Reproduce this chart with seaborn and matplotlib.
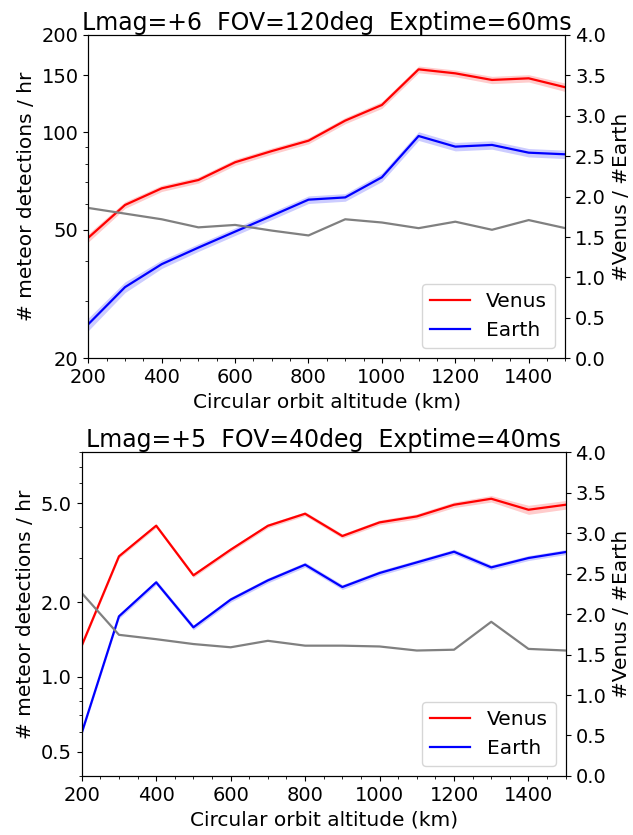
import numpy as np
import matplotlib
matplotlib.use("Agg")
import matplotlib.pyplot as plt
import matplotlib.ticker as mticker
import seaborn as sns

# altitudes of the circular orbits (km)
altitudes = [200, 300, 400, 500, 600, 700, 800, 900, 1000, 1100, 1200, 1300, 1400, 1500]

# --- top panel: Lmag=+6, FOV=120deg, Exptime=60ms ---
venus_top = [47.2, 59.6, 67.1, 71.2, 80.8, 87.5, 94.2, 108.7, 121.5, 156.6, 152.2, 145.2, 146.9, 137.8]
earth_top = [25.5, 33.2, 39.1, 44.0, 49.3, 55.2, 61.9, 62.9, 72.6, 97.4, 90.3, 91.4, 86.5, 85.5]
ratio_top = [1.86, 1.79, 1.72, 1.62, 1.65, 1.58, 1.52, 1.72, 1.68, 1.61, 1.69, 1.59, 1.71, 1.61]
# half width of the shaded band, in percent
venus_err_top = [3.0, 2.4, 2.2, 2.2, 2.2, 2.2, 2.2, 2.2, 2.4, 2.4, 2.4, 2.6, 2.6, 3.0]
earth_err_top = [4.5, 3.8, 3.0, 2.7, 2.7, 2.7, 2.7, 2.7, 3.0, 3.1, 3.0, 3.0, 3.0, 3.0]

# --- bottom panel: Lmag=+5, FOV=40deg, Exptime=40ms ---
venus_bot = [1.336, 3.053, 4.054, 2.561, 3.246, 4.05, 4.529, 3.684, 4.18, 4.418, 4.921, 5.202, 4.699, 4.921]
earth_bot = [0.596, 1.752, 2.400, 1.583, 2.045, 2.444, 2.826, 2.298, 2.617, 2.887, 3.186, 2.757, 3.006, 3.177]
ratio_bot = [2.26, 1.744, 1.69, 1.63, 1.59, 1.67, 1.61, 1.61, 1.60, 1.55, 1.56, 1.905, 1.57, 1.55]
venus_err_bot = [1.8, 1.8, 1.8, 1.9, 1.9, 1.9, 1.9, 2.0, 2.2, 2.4, 2.6, 3.0, 4.2, 4.0]
earth_err_bot = [2.2, 2.2, 2.2, 2.3, 2.3, 2.3, 2.3, 2.3, 2.3, 2.3, 2.3, 2.3, 2.3, 2.3]

titles = ["Lmag=+6  FOV=120deg  Exptime=60ms", "Lmag=+5  FOV=40deg  Exptime=40ms"]

FS = 14.5


def draw_panel(fig, rect, title, venus, earth, ratio, verr, eerr, ylim, yticks, fmt):
    ax = fig.add_axes(rect)
    x = np.array(altitudes)
    for vals, err, col, name in [(venus, verr, "red", "Venus"), (earth, eerr, "blue", "Earth")]:
        v = np.array(vals)
        e = np.array(err) / 100.0
        sns.lineplot(x=altitudes, y=vals, ax=ax, color=col, label=name, linewidth=1.6)
        ax.fill_between(x, v * (1 - e), v * (1 + e), color=col, alpha=0.2, linewidth=0)

    ax.set_yscale("log")
    ax.set_ylim(*ylim)
    ax.yaxis.set_major_locator(mticker.FixedLocator(yticks))
    ax.yaxis.set_major_formatter(mticker.FormatStrFormatter(fmt))
    ax.yaxis.set_minor_locator(mticker.LogLocator(subs="auto"))
    ax.yaxis.set_minor_formatter(mticker.NullFormatter())
    ax.set_xlim(200, 1500)
    ax.xaxis.set_major_locator(mticker.MultipleLocator(200))
    ax.xaxis.set_minor_locator(mticker.MultipleLocator(50))
    ax.tick_params(labelsize=14)
    ax.set_xlabel("Circular orbit altitude (km)", fontsize=FS)
    ax.set_ylabel("# meteor detections / hr", fontsize=FS)
    ax.set_title(title, fontsize=17, pad=3)

    ax2 = ax.twinx()
    sns.lineplot(x=altitudes, y=ratio, ax=ax2, color="gray", linewidth=1.6, legend=False)
    ax2.set_ylim(0, 4)
    ax2.yaxis.set_major_locator(mticker.MultipleLocator(0.5))
    ax2.tick_params(labelsize=14)
    ax2.set_ylabel("#Venus / #Earth", fontsize=FS)

    ax.legend(loc="lower right", fontsize=FS)
    return ax, ax2


fig = plt.figure(figsize=(6.33, 8.35), dpi=100)

draw_panel(fig, [0.1395, 0.5709, 0.7537, 0.3872], titles[0],
           venus_top, earth_top, ratio_top, venus_err_top, earth_err_top,
           (20, 200), [20, 50, 100, 150, 200], "%d")

draw_panel(fig, [0.1291, 0.0707, 0.7646, 0.3877], titles[1],
           venus_bot, earth_bot, ratio_bot, venus_err_bot, earth_err_bot,
           (0.4, 8.0), [0.5, 1.0, 2.0, 5.0], "%.1f")

fig.savefig("out.png", dpi=100)
